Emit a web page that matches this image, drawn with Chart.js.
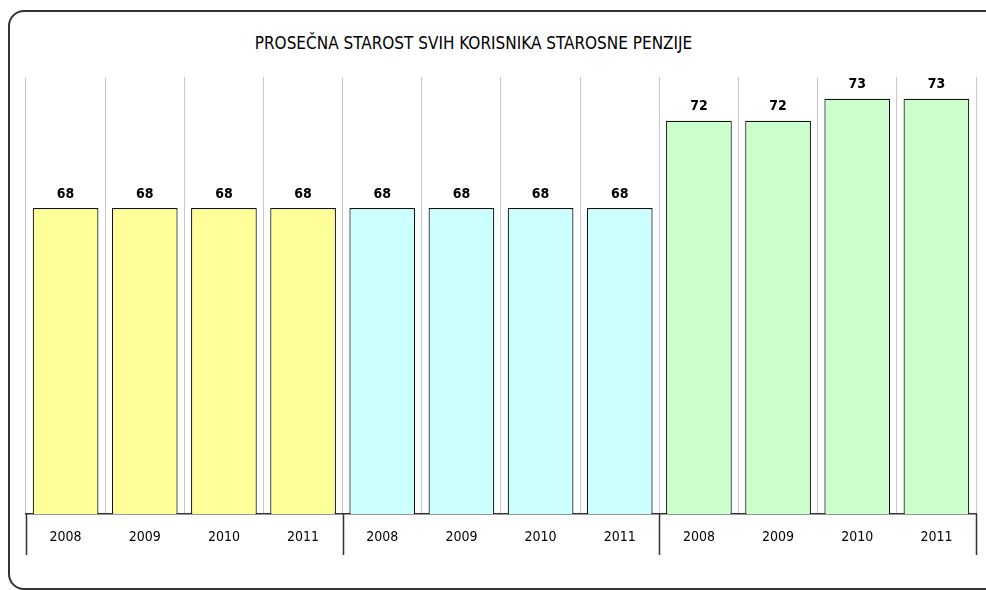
<!DOCTYPE html>
<html>
<head>
<meta charset="utf-8">
<script src="https://cdn.jsdelivr.net/npm/chart.js@4"></script>
<style>
    html, body {
        margin: 0;
        padding: 0;
        background: #ffffff;
        width: 986px;
        height: 590px;
        overflow: hidden;
    }
    #frame {
        position: absolute;
        left: 8px;
        top: 10px;
        width: 1000px;
        height: 580px;
        border: 2px solid #333333;
        border-radius: 16px;
        box-sizing: border-box;
    }
    #title {
        position: absolute;
        left: 0;
        width: 947px;
        top: 33px;
        text-align: center;
        font-family: "DejaVu Sans Condensed", "DejaVu Sans", sans-serif;
        font-stretch: condensed;
        font-size: 17px;
        color: #000;
    }
    #wrap {
        position: absolute;
        left: 0;
        top: 0;
        width: 986px;
        height: 590px;
    }
</style>
</head>
<body>
<div id="frame"></div>
<div id="title">PROSEČNA STAROST SVIH KORISNIKA STAROSNE PENZIJE</div>
<div id="wrap"><canvas id="chart"></canvas></div>
<script>
// Data
const years = ['2008', '2009', '2010', '2011', '2008', '2009', '2010', '2011', '2008', '2009', '2010', '2011'];
const ages = [68, 68, 68, 68, 68, 68, 68, 68, 72, 72, 73, 73];
const groupStarts = [0, 4, 8];
const barColors = [
    '#ffff99', '#ffff99', '#ffff99', '#ffff99',
    '#ccffff', '#ccffff', '#ccffff', '#ccffff',
    '#ccffcc', '#ccffcc', '#ccffcc', '#ccffcc'
];

const FONT = '"DejaVu Sans Condensed", "DejaVu Sans", sans-serif';

// Value labels above the bars
const valueLabels = {
    id: 'valueLabels',
    afterDatasetsDraw(chart) {
        const ctx = chart.ctx;
        const meta = chart.getDatasetMeta(0);
        ctx.save();
        ctx.font = 'bold 14px ' + FONT;
        ctx.fillStyle = '#000';
        ctx.textAlign = 'center';
        ctx.textBaseline = 'middle';
        meta.data.forEach((bar, i) => {
            ctx.fillText(ages[i], bar.x, bar.y - 14);
        });
        ctx.restore();
    }
};

// Dark separators between the year groups under the axis
const groupLines = {
    id: 'groupLines',
    afterDraw(chart) {
        const ctx = chart.ctx;
        const x = chart.scales.x;
        const bottom = chart.chartArea.bottom;
        const edges = groupStarts.map(i => x.getPixelForValue(i - 0.5));
        edges.push(x.getPixelForValue(years.length - 0.5));
        ctx.save();
        ctx.strokeStyle = '#333333';
        ctx.lineWidth = 1.5;
        edges.forEach(px => {
            ctx.beginPath();
            ctx.moveTo(Math.round(px) + 0.5, bottom);
            ctx.lineTo(Math.round(px) + 0.5, bottom + 41);
            ctx.stroke();
        });
        ctx.restore();
    }
};

document.addEventListener('DOMContentLoaded', () => {
    const ctx = document.getElementById('chart').getContext('2d');
    new Chart(ctx, {
        type: 'bar',
        data: {
            labels: years,
            datasets: [{
                data: ages,
                backgroundColor: barColors,
                borderColor: '#111111',
                borderWidth: 1.2,
                borderSkipped: false,
                barPercentage: 0.83,
                categoryPercentage: 1
            }]
        },
        options: {
            responsive: true,
            maintainAspectRatio: false,
            animation: false,
            layout: {
                padding: { left: 26, right: 10, top: 77, bottom: 31 }
            },
            scales: {
                x: {
                    grid: {
                        color: '#c8c8c8',
                        drawTicks: false
                    },
                    border: {
                        color: '#333333',
                        width: 1.5
                    },
                    ticks: {
                        padding: 15,
                        color: '#000',
                        font: { family: FONT, size: 14 }
                    },
                    afterFit(scale) {
                        scale.height = 45;
                    }
                },
                y: {
                    display: false,
                    min: 54,
                    max: 74
                }
            },
            plugins: {
                legend: { display: false },
                tooltip: { enabled: false }
            }
        },
        plugins: [valueLabels, groupLines]
    });
});
</script>
</body>
</html>
